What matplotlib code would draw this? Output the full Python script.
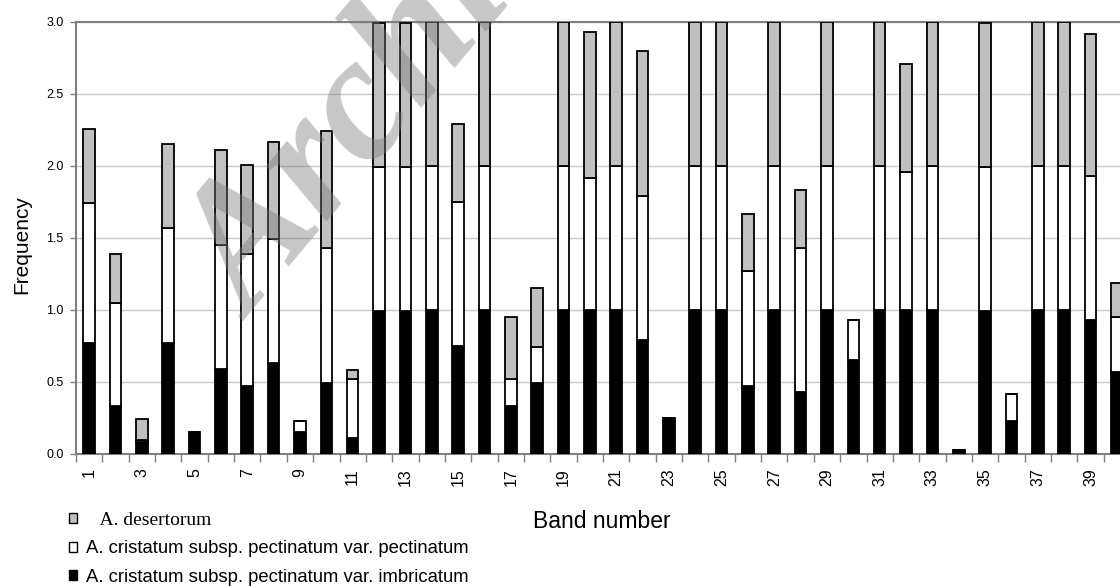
import matplotlib
matplotlib.use('agg')
import matplotlib.pyplot as plt
import numpy as np

# band numbers and stacked frequencies (black / white / grey segments)
bands = list(range(1, 41))
imbricatum = [0.77, 0.33, 0.08, 0.77, 0.15, 0.59, 0.47, 0.63, 0.15, 0.49,
              0.11, 0.99, 0.99, 1.00, 0.75, 1.00, 0.33, 0.49, 1.00, 1.00,
              1.00, 0.79, 0.25, 1.00, 1.00, 0.47, 1.00, 0.43, 1.00, 0.65,
              1.00, 1.00, 1.00, 0.03, 0.99, 0.23, 1.00, 1.00, 0.93, 0.57]
pectinatum = [0.97, 0.72, 0.02, 0.80, 0.00, 0.86, 0.92, 0.86, 0.08, 0.94,
              0.41, 1.00, 1.00, 1.00, 1.00, 1.00, 0.19, 0.25, 1.00, 0.92,
              1.00, 1.00, 0.00, 1.00, 1.00, 0.80, 1.00, 1.00, 1.00, 0.28,
              1.00, 0.96, 1.00, 0.00, 1.00, 0.19, 1.00, 1.00, 1.00, 0.38]
desertorum = [0.52, 0.34, 0.14, 0.58, 0.00, 0.66, 0.62, 0.68, 0.00, 0.81,
              0.06, 1.00, 1.00, 1.00, 0.54, 1.00, 0.43, 0.41, 1.00, 1.01,
              1.00, 1.01, 0.00, 1.00, 1.00, 0.40, 1.00, 0.40, 1.00, 0.00,
              1.00, 0.75, 1.00, 0.00, 1.00, 0.00, 1.00, 1.00, 0.99, 0.24]
labels = ['A. desertorum',
          'A. cristatum subsp. pectinatum var. pectinatum',
          'A. cristatum subsp. pectinatum var. imbricatum']
yticks = [0.0, 0.5, 1.0, 1.5, 2.0, 2.5, 3.0]

plt.rcParams['font.family'] = ['Liberation Sans', 'DejaVu Sans']

fig = plt.figure(figsize=(11.2, 5.86), dpi=100)
# axes runs past the right edge, like the cropped original
ax = fig.add_axes([76 / 1120, 132 / 586, 1054 / 1120, 432 / 586])

x = np.array(bands)
b1 = np.array(imbricatum)
b2 = np.array(pectinatum)
b3 = np.array(desertorum)
w = 0.44
h1 = ax.bar(x, b1, w, color='black', edgecolor='black', linewidth=1.3, zorder=3)
h2 = ax.bar(x, b2, w, bottom=b1, color='white', edgecolor='black', linewidth=1.3, zorder=3)
h3 = ax.bar(x, b3, w, bottom=b1 + b2, color='#c0c0c0', edgecolor='black', linewidth=1.3, zorder=3)

ax.set_xlim(0.5, 40.5)
ax.set_ylim(0, 3)
ax.set_yticks(yticks)
ax.set_yticklabels(['%.1f' % v for v in yticks], fontsize=9)
ax.yaxis.grid(True, color='#c8c8c8', linewidth=1.0, zorder=0)
ax.tick_params(axis='y', length=4, width=1, color='#808080', pad=5)

ax.set_xticks(bands[::2])
ax.set_xticklabels([str(b) for b in bands[::2]], rotation=90, fontsize=11.5)
ax.set_xticks(np.arange(0.5, 41, 1), minor=True)
ax.tick_params(axis='x', which='major', length=0, pad=10)
ax.tick_params(axis='x', which='minor', length=6, width=1, color='#808080')

for s in ax.spines.values():
    s.set_color('#808080')
    s.set_linewidth(1.5)

fig.text(22 / 1120, 1 - 245 / 586, 'Frequency', rotation=90, fontsize=15,
         ha='center', va='center')
fig.text(602 / 1120, 1 - 528 / 586, 'Band number', fontsize=16.5,
         ha='center', va='baseline')

leg = fig.legend([h3, h2, h1], ['   ' + labels[0], labels[1], labels[2]],
                 loc='upper left', bbox_to_anchor=(56 / 1120, 1 - 499 / 586),
                 frameon=False, fontsize=13.3, handlelength=0.45,
                 handleheight=0.45, handletextpad=0.45, labelspacing=0.62,
                 borderpad=0.2)
for p in leg.get_patches():
    p.set_linewidth(1.0)
leg.get_texts()[0].set_fontfamily('Liberation Serif')
leg.get_texts()[0].set_fontsize(14)

# watermark of the source image
fig.text(252 / 1120, 1 - 322 / 586, 'Archive of SID', rotation=50,
         rotation_mode='anchor', ha='left', va='baseline',
         family='Liberation Serif', weight='bold', style='italic',
         fontsize=128, color='#7a7a7a', alpha=0.42, zorder=10)

fig.savefig('out.png', dpi=100)
